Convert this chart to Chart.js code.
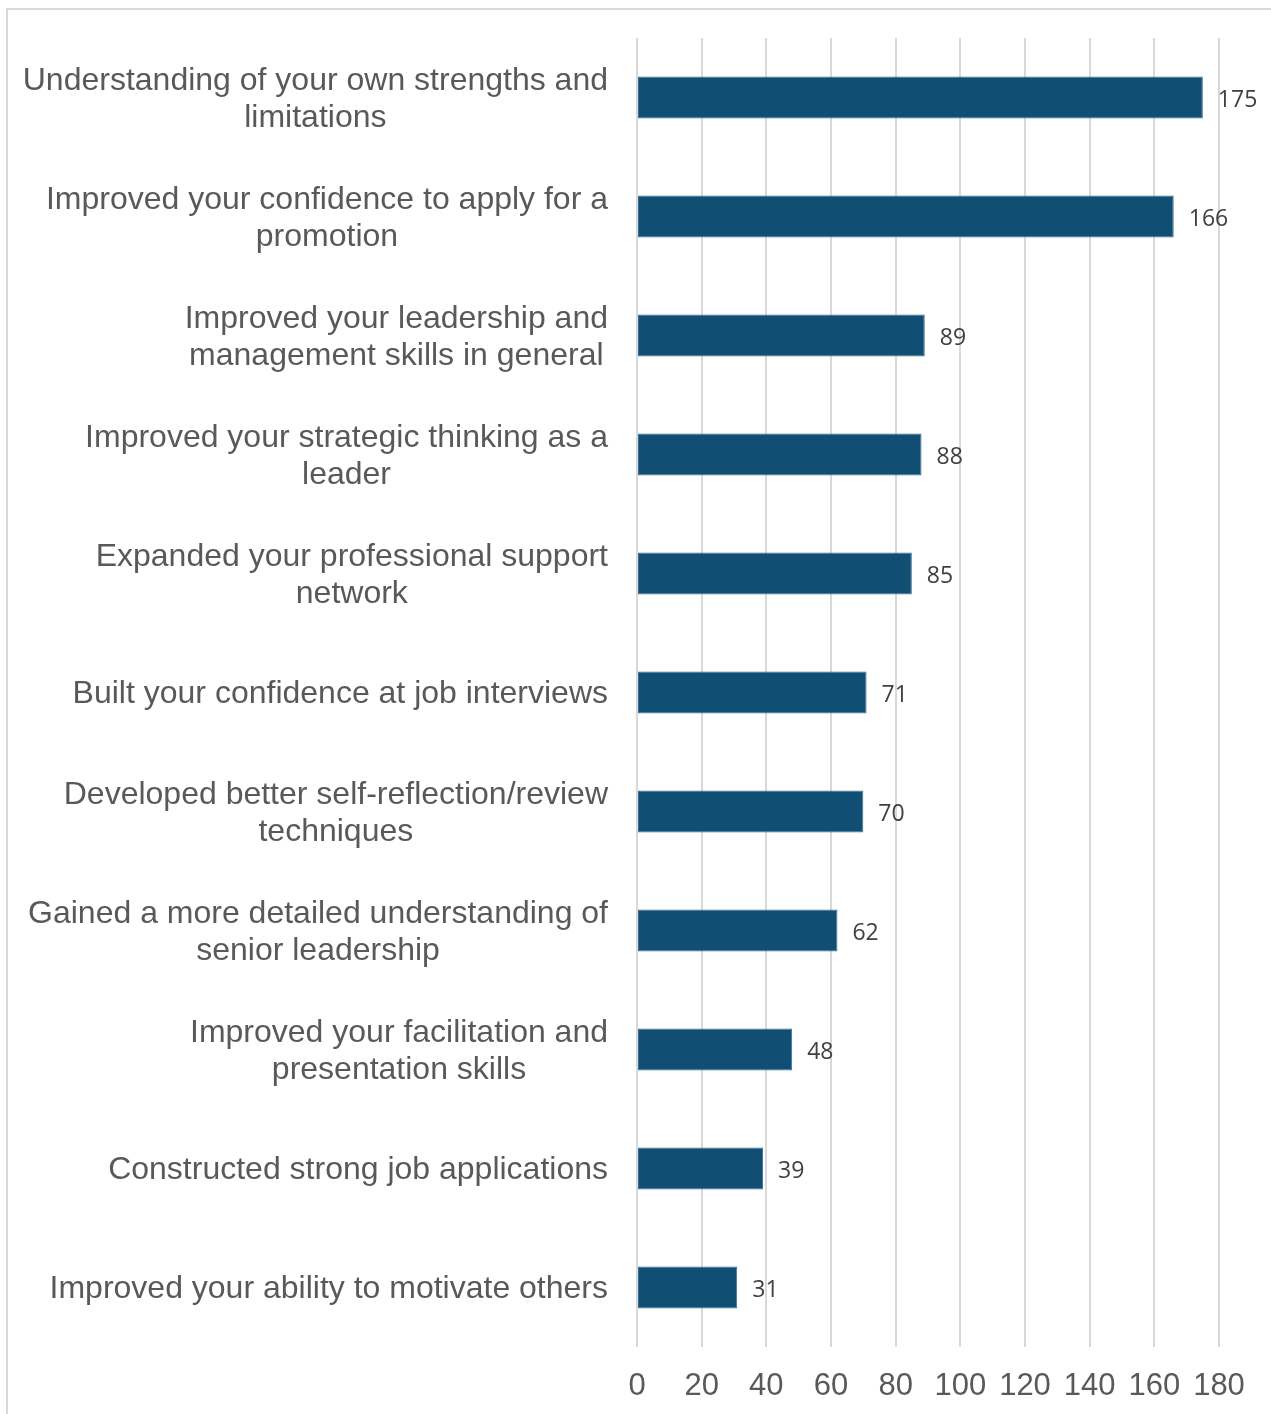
<!DOCTYPE html>
<html>
<head>
<meta charset="utf-8">
<script src="https://cdn.jsdelivr.net/npm/chart.js@4/dist/chart.umd.min.js"></script>
<style>
  html, body { margin: 0; padding: 0; background: #fff; }
  #wrap { position: relative; width: 1271px; height: 1414px; overflow: hidden; }
  #frame { position: absolute; left: 6px; top: 8px; width: 1400px; height: 1500px; border: 2px solid #d9d9d9; }
  canvas { position: absolute; left: 0; top: 0; }
</style>
</head>
<body>
<div id="wrap">
  <div id="frame"></div>
  <canvas id="chart" width="1271" height="1414"></canvas>
</div>
<script>
// Categories (each an array of display lines), top to bottom
const categories = [
  ['Understanding of your own strengths and', 'limitations'],
  ['Improved your confidence to apply for a', 'promotion'],
  ['Improved your leadership and', 'management skills in general'],
  ['Improved your strategic thinking as a', 'leader'],
  ['Expanded your professional support', 'network'],
  ['Built your confidence at job interviews'],
  ['Developed better self-reflection/review', 'techniques'],
  ['Gained a more detailed understanding of', 'senior leadership'],
  ['Improved your facilitation and', 'presentation skills'],
  ['Constructed strong job applications'],
  ['Improved your ability to motivate others']
];
const values = [175, 166, 89, 88, 85, 71, 70, 62, 48, 39, 31];
const xTicks = [0, 20, 40, 60, 80, 100, 120, 140, 160, 180];

const labelFont = '32px "Liberation Sans", Arial, sans-serif';
const textGray = '#595959';

// category labels on the left: right-aligned block, lines centred inside it
const categoryLabels = {
  id: 'categoryLabels',
  afterDraw(chart) {
    const ctx = chart.ctx;
    const yScale = chart.scales.y;
    const right = chart.chartArea.left - 29;
    const lineH = 37;
    ctx.save();
    ctx.font = labelFont;
    ctx.fillStyle = textGray;
    ctx.textAlign = 'center';
    ctx.textBaseline = 'middle';
    categories.forEach((lines, i) => {
      const y = yScale.getPixelForTick(i) + 2;
      const widest = Math.max(...lines.map(l => ctx.measureText(l).width));
      const cx = right - widest / 2;
      const y0 = y - (lines.length - 1) * lineH / 2;
      lines.forEach((l, j) => ctx.fillText(l, cx, y0 + j * lineH));
    });
    ctx.restore();
  }
};

// value labels to the right of each bar
const valueLabels = {
  id: 'valueLabels',
  afterDatasetsDraw(chart) {
    const ctx = chart.ctx;
    const meta = chart.getDatasetMeta(0);
    ctx.save();
    ctx.font = '23px "Open Sans", sans-serif';
    ctx.fillStyle = '#404040';
    ctx.textAlign = 'left';
    ctx.textBaseline = 'middle';
    meta.data.forEach((bar, i) => {
      ctx.fillText(String(values[i]), bar.x + 15, bar.y + 3);
    });
    ctx.restore();
  }
};

new Chart(document.getElementById('chart').getContext('2d'), {
  type: 'bar',
  data: {
    labels: categories.map(c => c.join(' ')),
    datasets: [{
      data: values,
      backgroundColor: '#114e74',
      borderColor: '#3b6f93',
      borderWidth: 1,
      borderSkipped: false,
      barPercentage: 0.355,
      categoryPercentage: 1
    }]
  },
  options: {
    indexAxis: 'y',
    responsive: false,
    animation: false,
    layout: { padding: { left: 637, right: 52, top: 38, bottom: 0 } },
    plugins: {
      legend: { display: false },
      tooltip: { enabled: false }
    },
    scales: {
      x: {
        min: 0,
        max: 180,
        afterBuildTicks: s => { s.ticks = xTicks.map(v => ({ value: v })); },
        afterFit: s => { s.height = 67; },
        border: { display: false },
        grid: { color: '#d9d9d9', lineWidth: 2, drawTicks: false },
        ticks: {
          padding: 21,
          color: textGray,
          font: { family: '"Liberation Sans", Arial, sans-serif', size: 31 },
          maxRotation: 0,
          autoSkip: false
        }
      },
      y: {
        display: false
      }
    }
  },
  plugins: [categoryLabels, valueLabels]
});
</script>
</body>
</html>
